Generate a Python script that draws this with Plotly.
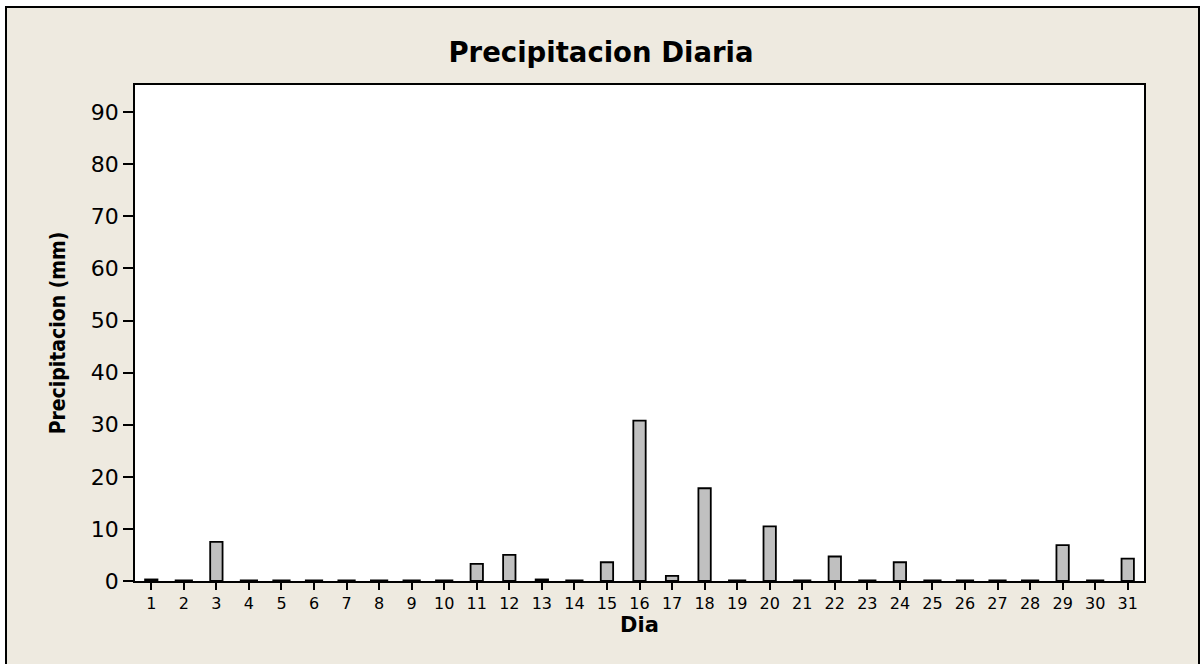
import plotly.graph_objects as go

dias = list(range(1, 32))
precip = [0.3, 0, 7.5, 0, 0, 0, 0, 0, 0, 0,
          3.3, 5.0, 0.3, 0, 3.6, 30.8, 1.0, 17.8, 0, 10.5,
          0, 4.7, 0, 3.6, 0, 0, 0, 0, 6.9, 0, 4.3]
y_ticks = [0, 10, 20, 30, 40, 50, 60, 70, 80, 90]

BG = "#EEEAE0"
FONT = "DejaVu Sans"

fig = go.Figure()
fig.add_trace(go.Bar(
    x=dias, y=precip, width=0.38,
    marker=dict(color="#C0C0C0", line=dict(color="black", width=1.8)),
    hoverinfo="x+y",
))
zero_x = [d for d, v in zip(dias, precip) if v == 0]
fig.add_trace(go.Scatter(
    x=zero_x, y=[0] * len(zero_x), mode="markers",
    marker=dict(symbol="line-ew", size=13, line=dict(color="black", width=3)),
    hoverinfo="skip", cliponaxis=False,
))

L, R, T, B = 135, 58, 85, 83
W, H = 1202, 664
pw, ph = W - L - R, H - T - B

fig.update_layout(
    width=W, height=H,
    margin=dict(l=L, r=R, t=T, b=B),
    paper_bgcolor="white", plot_bgcolor="white",
    showlegend=False,
    font=dict(family=FONT, color="black"),
    title=dict(text="<b>Precipitacion Diaria</b>", x=0.5, xref="container",
               xanchor="center", y=1 - 52 / H, yanchor="middle",
               font=dict(size=27.5, family=FONT)),
    xaxis=dict(
        range=[0.5, 31.5], tickmode="array", tickvals=dias,
        ticktext=[str(d) for d in dias],
        showline=True, linecolor="black", linewidth=1.5, mirror=True,
        ticks="outside", ticklen=7, tickwidth=1.5, tickcolor="black",
        tickfont=dict(size=16), showgrid=False, zeroline=False,
        title=dict(text="<b>Dia</b>", font=dict(size=21), standoff=5),
    ),
    yaxis=dict(
        range=[0, 95.2], tickmode="array", tickvals=y_ticks,
        showline=True, linecolor="black", linewidth=1.5, mirror=True,
        ticks="outside", ticklen=10, tickwidth=1.5, tickcolor="black",
        tickfont=dict(size=22), showgrid=False, zeroline=False,
        title=dict(text="<b>Precipitacion (mm)</b>",
                   font=dict(size=21, family="DejaVu Sans Condensed, DejaVu Sans"),
                   standoff=19),
    ),
    shapes=[
        dict(type="rect", xref="paper", yref="paper",
             x0=(6 - L) / pw, x1=(1199 - L) / pw,
             y0=(H - T - 680) / ph, y1=(H - T - 5) / ph,
             line=dict(color="black", width=2), fillcolor=BG, layer="below"),
        dict(type="rect", xref="paper", yref="paper",
             x0=0, x1=1, y0=0, y1=1,
             line=dict(width=0), fillcolor="white", layer="below"),
    ],
)

fig.write_html("out.html", config={"displayModeBar": False},
               post_script="document.body.style.margin='0';")
